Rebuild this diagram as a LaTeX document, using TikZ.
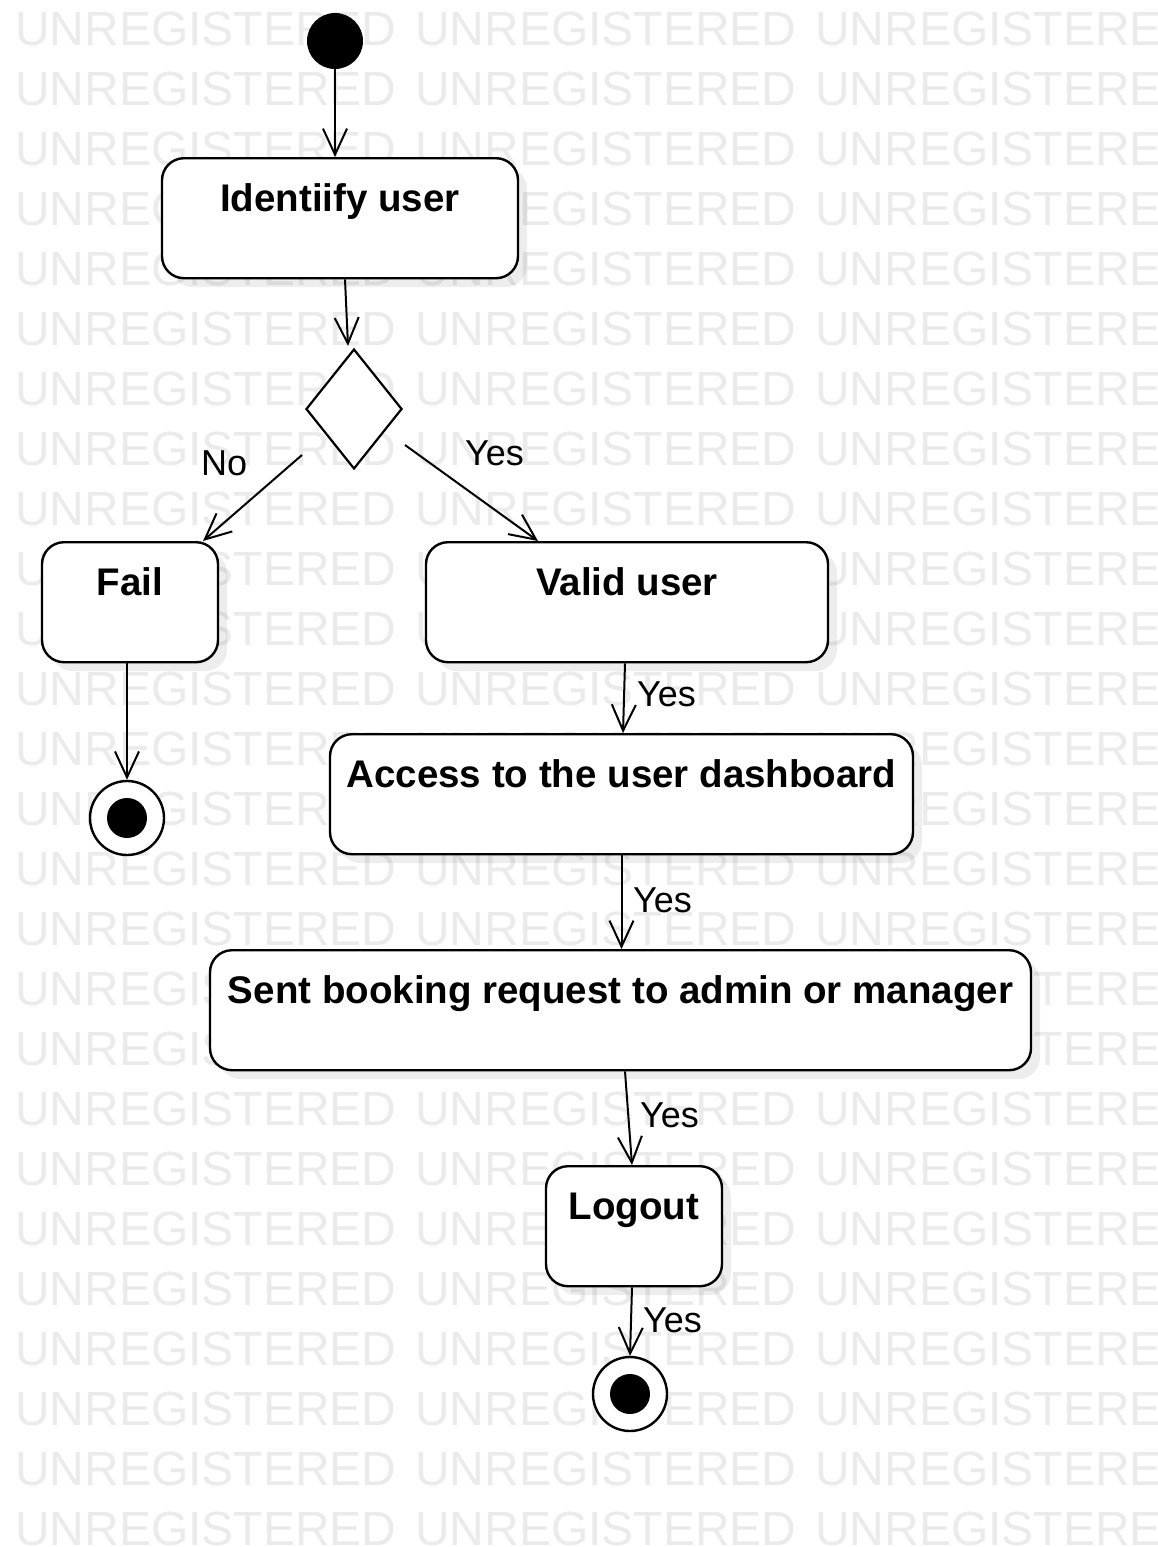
\documentclass[tikz,border=0pt]{standalone}
\usepackage{fontspec}
\setmainfont{Liberation Sans}
\usetikzlibrary{shapes.geometric,arrows.meta,shadows}
\begin{document}
\begin{tikzpicture}[x=1pt,y=-1pt,
  wm/.style={anchor=base west, inner sep=0pt, text=black!8,
    font=\fontsize{48}{57}\selectfont},
  act/.style={draw, line width=2.4pt, rounded corners=22pt, fill=white,
    anchor=north, inner xsep=0pt, inner ysep=20pt,
    text height=33pt, text depth=47pt,
    font=\bfseries\fontsize{38.5}{46}\selectfont,
    drop shadow={shadow xshift=9pt, shadow yshift=-9pt, fill=black, opacity=0.07}},
  flow/.style={draw, line width=2pt, -{Straight Barb[length=26pt,width=24pt]}},
  guard/.style={anchor=base west, inner sep=0pt, font=\fontsize{36}{43}\selectfont},
  initial/.style={circle, fill=black, minimum size=56pt, inner sep=0pt},
  final/.style={circle, draw, line width=2.4pt, fill=white, minimum size=74pt, inner sep=0pt},
  choice/.style={diamond, draw, line width=2.2pt, fill=white, minimum width=96pt,
    minimum height=120pt, inner sep=0pt}
]
\useasboundingbox (0,0) rectangle (1157,1547);
\clip (0,0) rectangle (1157,1547);
\fill[white] (0,0) rectangle (1157,1547);

% background watermark grid
\foreach \r in {0,...,25}
  \foreach \c in {0,1,2}
    \node[wm] (wm-\r-\c) at (15+400*\c, 45+60*\r) {UNREGISTERED};

% activities
\node[initial] (start) at (335,41) {};
\node[act, minimum width=356pt] (ident)  at (340,157)   {Identiify user};
\node[choice] (dec) at (354,409) {};
\node[act, minimum width=176pt] (fail)   at (130,541)   {Fail};
\node[act, minimum width=402pt] (valid)  at (627,541)   {Valid user};
\node[final] (end1) at (127,818) {};
\fill (end1.center) circle (20pt);
\node[act, minimum width=583pt] (access) at (621.5,733) {Access to the user dashboard};
\node[act, minimum width=821pt] (sent)   at (620.5,949) {Sent booking request to admin or manager};
\node[act, minimum width=176pt] (logout) at (634,1165)  {Logout};
\node[final] (end2) at (630,1394) {};
\fill (end2.center) circle (20pt);

% control flow
\draw[flow] (start.south) -- (start.south |- ident.north);
\draw[flow] ([xshift=5pt]ident.south) -- ([xshift=-6pt,yshift=2pt]dec.north);
\draw[flow] ([xshift=-52pt,yshift=-46pt]dec.center) -- ([xshift=73pt]fail.north);
\draw[flow] ([xshift=51pt,yshift=-36pt]dec.center) -- ([xshift=-89pt]valid.north);
\draw[flow] ([xshift=-3pt]fail.south) -- (end1.north);
\draw[flow] ([xshift=-2pt]valid.south) -- ([xshift=1.5pt]access.north);
\draw[flow] (access.south) -- ([xshift=1pt]sent.north);
\draw[flow] ([xshift=4.5pt]sent.south) -- ([xshift=-2pt]logout.north);
\draw[flow] ([xshift=-2pt]logout.south) -- (end2.north);

% guards
\node[guard] (g-no)   at (201,475)  {No};
\node[guard] (g-yes1) at (465,465)  {Yes};
\node[guard] (g-yes2) at (637,706)  {Yes};
\node[guard] (g-yes3) at (633,912)  {Yes};
\node[guard] (g-yes4) at (640,1127) {Yes};
\node[guard] (g-yes5) at (643,1332) {Yes};
\end{tikzpicture}
\end{document}
